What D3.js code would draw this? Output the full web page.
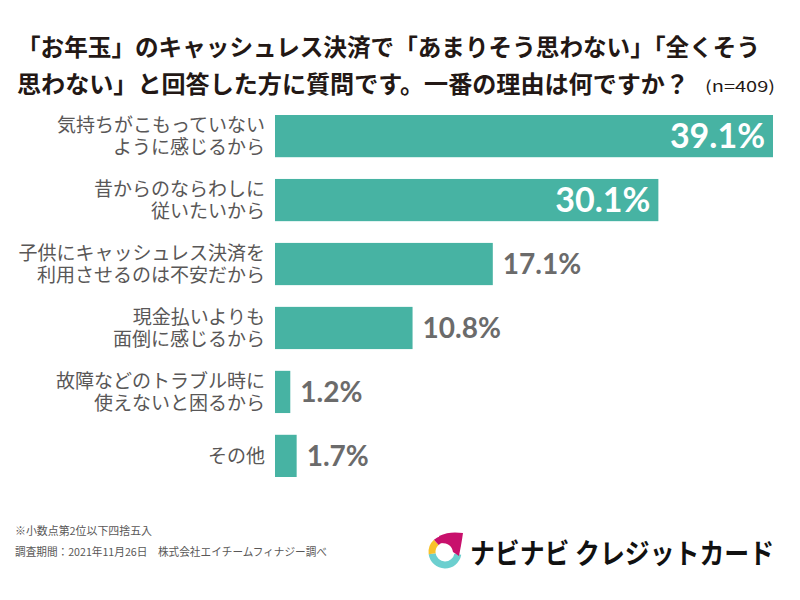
<!DOCTYPE html>
<html>
<head>
<meta charset="utf-8">
<script src="https://cdn.jsdelivr.net/npm/d3@7"></script>
<style>
  body { margin: 0; background: #fff; }
  svg { display: block; }
</style>
</head>
<body>
<div id="chart"></div>
<script>
// Data
const categories = [
  ["気持ちがこもっていない", "ように感じるから"],
  ["昔からのならわしに", "従いたいから"],
  ["子供にキャッシュレス決済を", "利用させるのは不安だから"],
  ["現金払いよりも", "面倒に感じるから"],
  ["故障などのトラブル時に", "使えないと困るから"],
  ["その他"]
];
const values = [39.1, 30.1, 17.1, 10.8, 1.2, 1.7];
const titleLines = [
  "「お年玉」のキャッシュレス決済で「あまりそう思わない」「全くそう",
  "思わない」と回答した方に質問です。一番の理由は何ですか？"
];
const sampleNote = "(n=409)";
const footnotes = [
  "※小数点第2位以下四捨五入",
  "調査期間：2021年11月26日　株式会社エイチームフィナジー調べ"
];
const brandName = "ナビナビ クレジットカード";

const W = 800, H = 600;
const jp = "'Noto Sans CJK JP', 'Noto Sans', sans-serif";
const num = "Lato, 'Noto Sans', sans-serif";

const svg = d3.select("#chart").append("svg")
  .attr("width", W)
  .attr("height", H);

// Title
svg.selectAll(".title")
  .data(titleLines)
  .join("text")
  .attr("class", "title")
  .attr("x", 17)
  .attr("y", (d, i) => 56 + i * 37)
  .attr("font-family", jp)
  .attr("font-weight", 700)
  .attr("font-size", "23.5px")
  .attr("fill", "#231815")
  .attr("textLength", (d, i) => i === 0 ? 743 : 672)
  .attr("lengthAdjust", "spacingAndGlyphs")
  .text(d => d);

svg.append("text")
  .attr("x", 705)
  .attr("y", 92)
  .attr("font-family", jp)
  .attr("font-size", "15.5px")
  .attr("fill", "#231815")
  .attr("textLength", 70)
  .attr("lengthAdjust", "spacingAndGlyphs")
  .text(sampleNote);

// Scales
const idx = d3.range(values.length);
const x = d3.scaleLinear()
  .domain([0, 39.1])
  .range([275, 773]);

const y = d3.scaleBand()
  .domain(idx)
  .range([115, 477])
  .paddingInner(0.34)
  .paddingOuter(0);

// Bars
svg.selectAll(".bar")
  .data(idx)
  .join("rect")
  .attr("class", "bar")
  .attr("x", x(0))
  .attr("y", i => y(i))
  .attr("width", i => x(values[i]) - x(0))
  .attr("height", y.bandwidth())
  .attr("fill", "#47b3a3");

// Category labels
const lineH = 22.5;
const labelG = svg.selectAll(".label")
  .data(idx)
  .join("text")
  .attr("class", "label")
  .attr("text-anchor", "end")
  .attr("font-family", jp)
  .attr("font-size", "19px")
  .attr("fill", "#595757");

labelG.selectAll("tspan")
  .data(i => categories[i].map((t, k) => ({ t, k, i, n: categories[i].length })))
  .join("tspan")
  .attr("x", 265)
  .attr("y", d => y(d.i) + y.bandwidth() / 2 + 7 + (d.k - (d.n - 1) / 2) * lineH)
  .text(d => d.t);

// Value labels
const inside = v => v > 25;
svg.selectAll(".val")
  .data(idx)
  .join("text")
  .attr("class", "val")
  .attr("x", i => inside(values[i]) ? x(values[i]) - 8 : x(values[i]) + 10)
  .attr("y", i => y(i) + y.bandwidth() / 2 + (inside(values[i]) ? 12 : 10))
  .attr("text-anchor", i => inside(values[i]) ? "end" : "start")
  .attr("font-family", num)
  .attr("font-weight", 700)
  .attr("font-size", i => inside(values[i]) ? "34px" : "28px")
  .attr("fill", i => inside(values[i]) ? "#fff" : "#6b6b6b")
  .text(i => values[i].toFixed(1) + "%");

// Footnotes
svg.selectAll(".foot")
  .data(footnotes)
  .join("text")
  .attr("class", "foot")
  .attr("x", 15)
  .attr("y", (d, i) => 535 + i * 21)
  .attr("font-family", jp)
  .attr("font-size", "11px")
  .attr("fill", "#595757")
  .attr("textLength", (d, i) => i === 0 ? 137 : 312)
  .attr("lengthAdjust", "spacingAndGlyphs")
  .text(d => d);

// Logo
const logo = svg.append("g").attr("transform", "translate(445,552)");
const ring = d3.arc().innerRadius(9.5).outerRadius(16.5);
const deg = Math.PI / 180;
logo.append("path")
  .attr("d", ring({ startAngle: 100 * deg, endAngle: 262 * deg }))
  .attr("fill", "#6ccfcf");
logo.append("path")
  .attr("d", ring({ startAngle: 262 * deg, endAngle: 318 * deg }))
  .attr("fill", "#f8c22c");
logo.append("path")
  .attr("d", ring({ startAngle: 318 * deg, endAngle: 430 * deg }))
  .attr("fill", "#c8106c");
logo.append("path")
  .attr("d", "M-6,-16 C2,-20 10,-20 18,-19 C17,-12 16,-6 14,4 L8,0 C7,-6 3,-9 -4,-9 Z")
  .attr("fill", "#c8106c");

svg.append("text")
  .attr("x", 470)
  .attr("y", 564)
  .attr("font-family", jp)
  .attr("font-weight", 700)
  .attr("font-size", "28px")
  .attr("fill", "#111")
  .attr("textLength", 304)
  .attr("lengthAdjust", "spacingAndGlyphs")
  .text(brandName);
</script>
</body>
</html>
